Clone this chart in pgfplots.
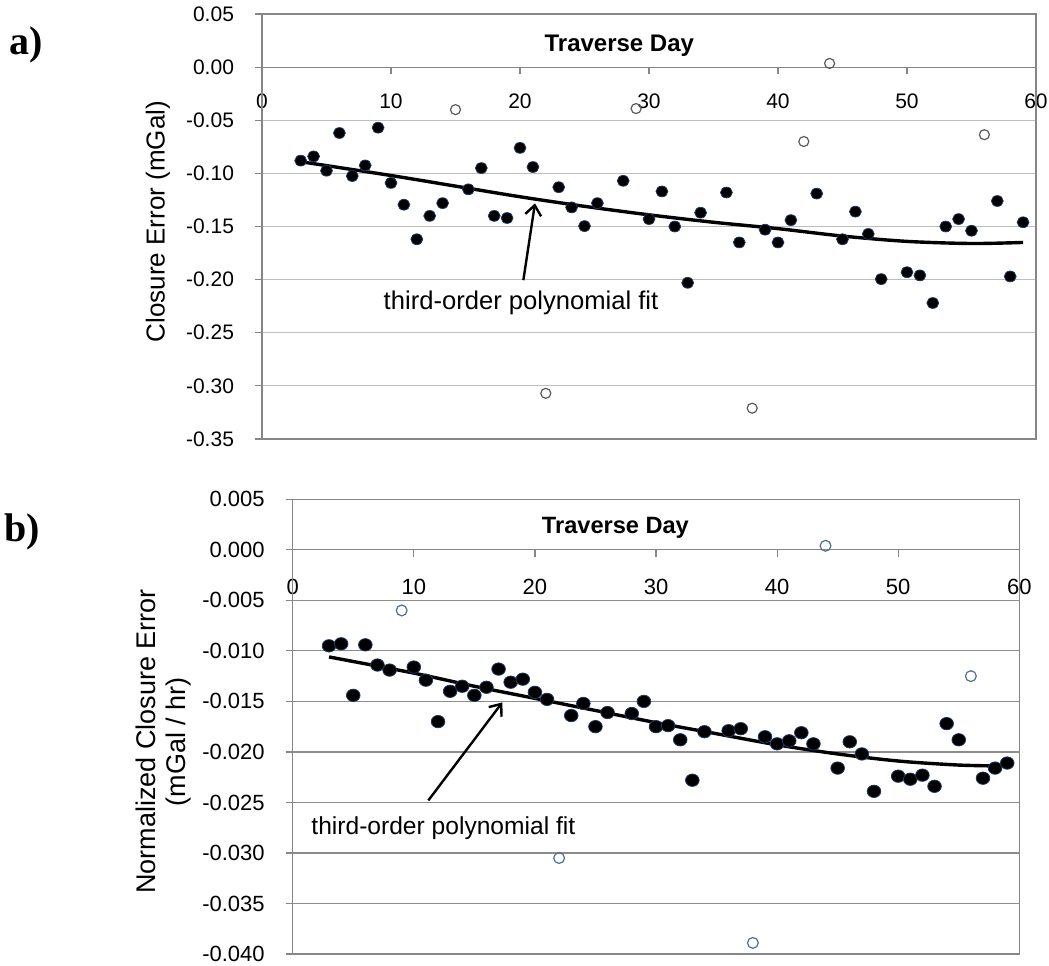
\documentclass[border=0pt]{standalone}
\usepackage{fontspec}
\setmainfont{Liberation Sans}
\newfontfamily\panelfont{Liberation Serif}
\usepackage{pgfplots}
\pgfplotsset{compat=1.18}
\usetikzlibrary{arrows.meta}

\definecolor{boxgray}{RGB}{134,134,134}
\definecolor{gridtop}{RGB}{190,190,190}
\definecolor{gridbot}{RGB}{140,140,140}
\definecolor{dotedge}{RGB}{31,56,100}
\definecolor{opengray}{RGB}{90,90,90}
\definecolor{openblue}{RGB}{79,110,160}

% top panel: closure error (mGal)
\pgfplotstableread{
day err
3 -0.088
4 -0.084
5 -0.0975
6 -0.062
7 -0.1025
8 -0.0925
9 -0.057
10 -0.109
11 -0.1295
12 -0.162
13 -0.140
14 -0.128
16 -0.115
17 -0.095
18 -0.140
19 -0.142
20 -0.076
21 -0.094
23 -0.113
24 -0.132
25 -0.1496
26 -0.128
28 -0.107
30 -0.143
31 -0.117
32 -0.150
33 -0.203
34 -0.137
36 -0.118
37 -0.165
39 -0.153
40 -0.165
41 -0.144
43 -0.119
45 -0.162
46 -0.136
47 -0.157
48 -0.1995
50 -0.193
51 -0.196
52 -0.222
53 -0.150
54 -0.143
55 -0.154
57 -0.126
58 -0.197
59 -0.146
}\topkept
\pgfplotstableread{
day err
15 -0.040
22 -0.307
29 -0.039
38 -0.321
42 -0.070
44 0.0035
56 -0.0636
}\topout
\pgfplotstableread{
day fit
3 -0.089
10 -0.102
15 -0.112
20 -0.122
25 -0.131
30 -0.139
35 -0.146
40 -0.152
45 -0.159
50 -0.164
55 -0.166
59 -0.165
}\topfit

% bottom panel: normalized closure error (mGal/hr)
\pgfplotstableread{
day err
3 -0.0095
4 -0.0093
5 -0.0144
6 -0.0094
7 -0.0114
8 -0.0119
10 -0.0116
11 -0.0129
12 -0.0170
13 -0.0140
14 -0.0135
15 -0.0144
16 -0.0136
17 -0.0118
18 -0.0131
19 -0.0128
20 -0.0141
21 -0.0148
23 -0.0164
24 -0.0152
25 -0.0175
26 -0.0161
28 -0.0162
29 -0.0150
30 -0.0175
31 -0.0174
32 -0.0188
33 -0.0228
34 -0.0180
36 -0.0179
37 -0.0177
39 -0.0185
40 -0.0192
41 -0.0189
42 -0.0181
43 -0.0192
45 -0.0216
46 -0.0190
47 -0.0202
48 -0.0239
50 -0.0224
51 -0.0227
52 -0.0223
53 -0.0234
54 -0.0172
55 -0.0188
57 -0.0226
58 -0.0216
59 -0.0211
}\botkept
\pgfplotstableread{
day err
9 -0.0060
22 -0.0305
38 -0.0389
44 0.0004
56 -0.0125
}\botout
\pgfplotstableread{
day fit
3 -0.0106
10 -0.0122
15 -0.0135
20 -0.0147
25 -0.0159
30 -0.0171
35 -0.0182
40 -0.0193
45 -0.0202
50 -0.0209
55 -0.0213
59 -0.0214
}\botfit

\pgfplotsset{
  closure/.style={
    scale only axis,
    axis x line=middle,
    axis y line=left,
    axis line style={-, draw=boxgray, line width=0.6pt},
    xmin=0, xmax=60, xtick={0,10,...,60},
    hide obscured x ticks=false,
    tick align=outside,
    major tick length=3.5pt,
    tick style={draw=boxgray, line width=0.6pt},
    ymajorgrids,
    scaled y ticks=false,
    /pgf/number format/assume math mode=true,
    clip=false,
  },
  kept/.style={only marks, mark=*, mark options={fill=black, draw=dotedge, line width=0.4pt, xscale=1.1}},
  fitline/.style={black, line width=1.7pt, smooth, no markers},
}

\begin{document}
\begin{tikzpicture}
\path[use as bounding box] (0,0) rectangle (524.5pt,-482.5pt);

\node[font=\panelfont\bfseries\fontsize{20}{24}\selectfont] at (13pt,-22.5pt) {a)};
\node[font=\panelfont\bfseries\fontsize{20}{24}\selectfont] at (11pt,-266pt) {b)};

\begin{axis}[closure,
    at={(131pt,-7pt)}, anchor=north west,
    width=387pt, height=212.5pt,
    ymin=-0.35, ymax=0.05,
    ytick={-0.35,-0.3,-0.25,-0.2,-0.15,-0.1,-0.05,0,0.05},
    grid style={draw=gridtop, line width=0.6pt},
    ticklabel style={font=\fontsize{10.5}{12}\selectfont},
    xticklabel style={anchor=north, yshift=-6.5pt},
    yticklabel style={anchor=east, xshift=-7pt, /pgf/number format/fixed, /pgf/number format/fixed zerofill, /pgf/number format/precision=2},
    xlabel={Traverse Day},
    every axis x label/.style={at={(axis cs:27.7,0.0201)}, anchor=center, font=\bfseries\fontsize{12}{14}\selectfont},
    ylabel={Closure Error (mGal)},
    every axis y label/.style={at={(rel axis cs:-0.1344,0.5118)}, rotate=90, anchor=center, font=\fontsize{13}{15}\selectfont},
  ]
  \draw[boxgray, line width=0.6pt] (rel axis cs:0,0) rectangle (rel axis cs:1,1);
  \addplot[fitline] table[x=day, y=fit] {\topfit};
  \addplot[kept, mark size=2.7pt] table[x=day, y=err] {\topkept};
  \addplot[only marks, mark=o, mark size=2.5pt, mark options={draw=opengray, fill=white, line width=0.6pt}] table[x=day, y=err] {\topout};
  \draw[-{Straight Barb[length=5pt,width=8pt]}, line width=1.2pt] (axis cs:20.26,-0.2005) -- (axis cs:21.16,-0.1282);
  \node[font=\fontsize{12.8}{15}\selectfont] at (axis cs:20.08,-0.2221) {third-order polynomial fit};
\end{axis}

\begin{axis}[closure,
    at={(146.35pt,-249.65pt)}, anchor=north west,
    width=363.3pt, height=227.35pt,
    ymin=-0.04, ymax=0.005,
    ytick={-0.04,-0.035,-0.03,-0.025,-0.02,-0.015,-0.01,-0.005,0,0.005},
    grid style={draw=gridbot, line width=0.6pt},
    ticklabel style={font=\fontsize{11}{13}\selectfont},
    xticklabel style={anchor=north, yshift=-7.5pt},
    yticklabel style={anchor=east, xshift=-7pt, /pgf/number format/fixed, /pgf/number format/fixed zerofill, /pgf/number format/precision=3},
    xlabel={Traverse Day},
    every axis x label/.style={at={(axis cs:26.65,0.00221)}, anchor=center, font=\bfseries\fontsize{11.8}{14}\selectfont},
    ylabel={Normalized Closure Error\\(mGal / hr)},
    every axis y label/.style={at={(rel axis cs:-0.1778,0.4673)}, rotate=90, anchor=center, align=center, font=\fontsize{13.5}{15}\selectfont},
  ]
  \draw[boxgray, line width=0.6pt] (rel axis cs:0,0) rectangle (rel axis cs:1,1);
  \addplot[fitline] table[x=day, y=fit] {\botfit};
  \addplot[kept, mark size=3.1pt] table[x=day, y=err] {\botkept};
  \addplot[only marks, mark=o, mark size=2.7pt, mark options={draw=openblue, fill=white, line width=0.6pt}] table[x=day, y=err] {\botout};
  \draw[-{Straight Barb[length=5pt,width=8pt]}, line width=1.2pt] (axis cs:11.2,-0.0248) -- (axis cs:17.31,-0.0151);
  \node[font=\fontsize{12.3}{15}\selectfont] at (axis cs:12.44,-0.0275) {third-order polynomial fit};
\end{axis}
\end{tikzpicture}
\end{document}
